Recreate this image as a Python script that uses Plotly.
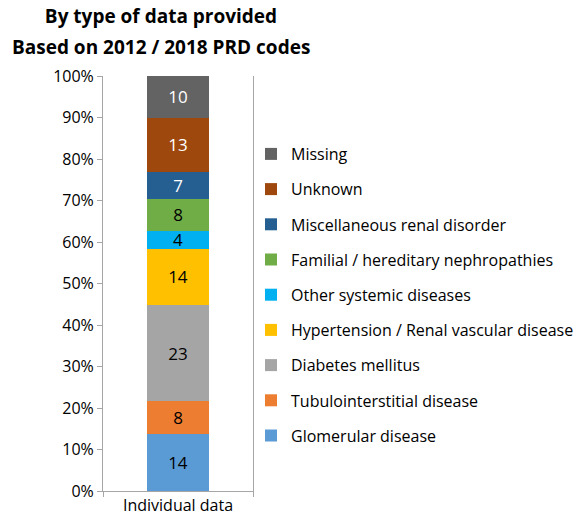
import plotly.graph_objects as go

category = ["Individual data"]
series_names = [
    "Glomerular disease",
    "Tubulointerstitial disease",
    "Diabetes mellitus",
    "Hypertension / Renal vascular disease",
    "Other systemic diseases",
    "Familial / hereditary nephropathies",
    "Miscellaneous renal disorder",
    "Unknown",
    "Missing",
]
series_values = [13.65, 8.05, 23.1, 13.6, 4.25, 7.75, 6.5, 13.0, 10.1]
series_labels = ["14", "8", "23", "14", "4", "8", "7", "13", "10"]
series_colors = ["#5B9BD5", "#ED7D31", "#A5A5A5", "#FFC000", "#00B0F0",
                 "#70AD47", "#255E91", "#9E480E", "#636363"]
label_colors = ["black", "black", "black", "black", "black", "black",
                "white", "white", "white"]
y_ticks = list(range(0, 101, 10))
y_ticktext = [f"{v}%" for v in y_ticks]

FONT = "Open Sans"
W, H = 578, 530
L, R, T, B = 103, 253, 76, 491   # plot area in px

fig = go.Figure()
n = len(series_names)
for i, (name, val, lab, col, lc) in enumerate(zip(series_names, series_values,
                                                  series_labels, series_colors,
                                                  label_colors)):
    fig.add_trace(go.Bar(
        x=category, y=[val], name=name, text=[lab],
        textposition="inside", insidetextanchor="middle", textangle=0,
        textfont=dict(family=FONT, size=17, color=lc),
        marker=dict(color=col, line=dict(width=0)),
        legendgroup=name, legendrank=n - i,
    ))

def px_x(p):
    return (p - L) / (R - L)

def px_y(p):
    return (B - p) / (B - T)

fig.update_layout(
    barmode="stack",
    bargap=0.59,
    width=W, height=H,
    margin=dict(l=L, r=W - R, t=T, b=H - B, autoexpand=False),
    paper_bgcolor="white", plot_bgcolor="white",
    font=dict(family=FONT, size=16, color="black"),
    showlegend=True,
    uniformtext=dict(mode="show", minsize=16),
    title=dict(text="<b>By type of data provided</b>", x=161 / W,
               xanchor="center", xref="container",
               y=1 - 16 / H, yref="container", yanchor="middle",
               font=dict(family=FONT, size=19, color="black")),
    annotations=[dict(text="<b>Based on 2012 / 2018 PRD codes</b>",
                      xref="paper", yref="paper", x=px_x(161), y=px_y(47),
                      showarrow=False, xanchor="center", yanchor="middle",
                      font=dict(family=FONT, size=19, color="black"))],
    legend=dict(traceorder="grouped", x=px_x(251), xanchor="left",
                y=px_y(137), yanchor="top",
                font=dict(family=FONT, size=16, color="black"),
                tracegroupgap=11.4, itemwidth=30, bgcolor="rgba(0,0,0,0)",
                borderwidth=0),
)

fig.update_yaxes(range=[0, 100], tickvals=y_ticks, ticktext=y_ticktext,
                 showgrid=False, showline=True, linecolor="#A6A6A6", linewidth=1,
                 mirror=True, ticks="outside", ticklen=5, tickcolor="#A6A6A6",
                 tickfont=dict(family=FONT, size=16, color="black"), zeroline=False)
fig.update_xaxes(showgrid=False, showline=True, linecolor="#A6A6A6", linewidth=1,
                 ticks="outside", tickson="boundaries", ticklen=5, tickcolor="#A6A6A6",
                 tickfont=dict(family=FONT, size=16, color="black"))

fig.write_html("out.html",
               config={"displayModeBar": False},
               post_script="document.body.style.margin='0';"
                           "document.body.style.overflow='hidden';")
